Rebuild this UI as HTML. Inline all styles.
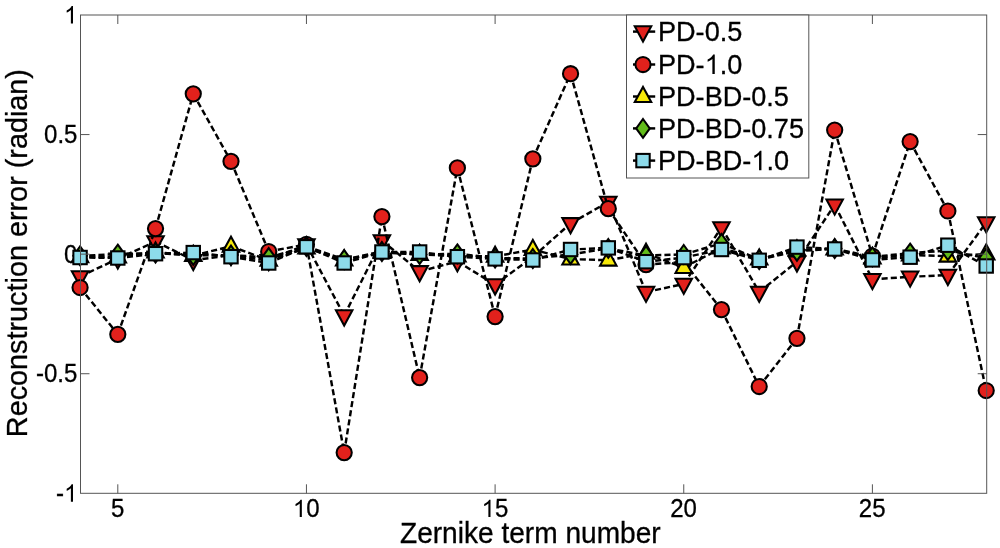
<!DOCTYPE html>
<html><head><meta charset="utf-8"><title>Reconstruction error vs Zernike term number</title>
<style>html,body{margin:0;padding:0;background:#fff;}svg{display:block;will-change:transform;}text{font-family:"Liberation Sans",sans-serif;fill:#000;}</style>
</head><body>
<svg width="1000" height="548" viewBox="0 0 1000 548">
<rect x="0" y="0" width="1000" height="548" fill="#fff"/>
<g stroke="#000" stroke-width="0.3">
<text transform="translate(110.93 517.1) scale(1 1.06)" font-size="24.0">5</text>
<path transform="translate(292.9 517.1) scale(0.01172 -0.01185)" d="M763 0H583V1147Q518 1085 412.5 1023Q307 961 223 930V1104Q374 1175 487 1276Q600 1377 647 1472H763Z"/><text transform="translate(306.25 517.1) scale(1 1.06)" font-size="24.0">0</text>
<path transform="translate(481.55 517.1) scale(0.01172 -0.01185)" d="M763 0H583V1147Q518 1085 412.5 1023Q307 961 223 930V1104Q374 1175 487 1276Q600 1377 647 1472H763Z"/><text transform="translate(494.9 517.1) scale(1 1.06)" font-size="24.0">5</text>
<text transform="translate(670.2 517.1) scale(1 1.06)" font-size="24.0">20</text>
<text transform="translate(858.85 517.1) scale(1 1.06)" font-size="24.0">25</text>
</g>
<g stroke="#000" stroke-width="0.3">
<path transform="translate(64.05 23.5) scale(0.01172 -0.01185)" d="M763 0H583V1147Q518 1085 412.5 1023Q307 961 223 930V1104Q374 1175 487 1276Q600 1377 647 1472H763Z"/>
<text transform="translate(44.04 143.07) scale(1 1.06)" font-size="24.0">0.5</text>
<text transform="translate(64.05 262.65) scale(1 1.06)" font-size="24.0">0</text>
<text transform="translate(36.04 382.23) scale(1 1.06)" font-size="24.0">-0.5</text>
<text transform="translate(56.06 501.8) scale(1 1.06)" font-size="24.0">-</text><path transform="translate(64.05 501.8) scale(0.01172 -0.01185)" d="M763 0H583V1147Q518 1085 412.5 1023Q307 961 223 930V1104Q374 1175 487 1276Q600 1377 647 1472H763Z"/>
</g>
<text transform="translate(530.3 543.4) scale(1 1.035)" font-size="28.1" text-anchor="middle" stroke="#000" stroke-width="0.3">Zernike term number</text>
<text transform="translate(27.1 253.1) rotate(-90)" font-size="28.8" text-anchor="middle" stroke="#000" stroke-width="0.3">Reconstruction error (radian)</text>
<g stroke="#000" stroke-width="2.05" stroke-linejoin="miter" stroke-miterlimit="10">
<path d="M80.07 276.5L117.8 258.8M117.8 258.8L155.53 241.5M155.53 241.5L193.26 260.2M193.26 260.2L230.99 255.2M230.99 255.2L268.72 260.3M268.72 260.3L306.45 244.5M306.45 244.5L344.18 315.6M344.18 315.6L381.91 240.5M381.91 240.5L419.64 271.4M419.64 271.4L457.37 261.5M457.37 261.5L495.1 284.6M495.1 284.6L532.83 257M532.83 257L570.56 223.4M570.56 223.4L608.29 202M608.29 202L646.02 292M646.02 292L683.75 284M683.75 284L721.48 227.5M721.48 227.5L759.21 292M759.21 292L796.94 261.7M796.94 261.7L834.67 204.8M834.67 204.8L872.4 279.3M872.4 279.3L910.13 276.8M910.13 276.8L947.86 275.1M947.86 275.1L986.2 222.5" fill="none" stroke-width="2.45" stroke-dasharray="6.1 3.1"/>
<path d="M71.82 271.2H88.32L80.07 286.4Z" fill="#e2211c"/>
<path d="M109.55 253.5H126.05L117.8 268.7Z" fill="#e2211c"/>
<path d="M147.28 236.2H163.78L155.53 251.4Z" fill="#e2211c"/>
<path d="M185.01 254.9H201.51L193.26 270.1Z" fill="#e2211c"/>
<path d="M222.74 249.9H239.24L230.99 265.1Z" fill="#e2211c"/>
<path d="M260.47 255H276.97L268.72 270.2Z" fill="#e2211c"/>
<path d="M298.2 239.2H314.7L306.45 254.4Z" fill="#e2211c"/>
<path d="M335.93 310.3H352.43L344.18 325.5Z" fill="#e2211c"/>
<path d="M373.66 235.2H390.16L381.91 250.4Z" fill="#e2211c"/>
<path d="M411.39 266.1H427.89L419.64 281.3Z" fill="#e2211c"/>
<path d="M449.12 256.2H465.62L457.37 271.4Z" fill="#e2211c"/>
<path d="M486.85 279.3H503.35L495.1 294.5Z" fill="#e2211c"/>
<path d="M524.58 251.7H541.08L532.83 266.9Z" fill="#e2211c"/>
<path d="M562.31 218.1H578.81L570.56 233.3Z" fill="#e2211c"/>
<path d="M600.04 196.7H616.54L608.29 211.9Z" fill="#e2211c"/>
<path d="M637.77 286.7H654.27L646.02 301.9Z" fill="#e2211c"/>
<path d="M675.5 278.7H692L683.75 293.9Z" fill="#e2211c"/>
<path d="M713.23 222.2H729.73L721.48 237.4Z" fill="#e2211c"/>
<path d="M750.96 286.7H767.46L759.21 301.9Z" fill="#e2211c"/>
<path d="M788.69 256.4H805.19L796.94 271.6Z" fill="#e2211c"/>
<path d="M826.42 199.5H842.92L834.67 214.7Z" fill="#e2211c"/>
<path d="M864.15 274H880.65L872.4 289.2Z" fill="#e2211c"/>
<path d="M901.88 271.5H918.38L910.13 286.7Z" fill="#e2211c"/>
<path d="M939.61 269.8H956.11L947.86 285Z" fill="#e2211c"/>
<path d="M977.95 217.2H994.45L986.2 232.4Z" fill="#e2211c"/>
<path d="M80.07 287.5L117.8 334.3M117.8 334.3L155.53 228.6M155.53 228.6L193.26 93.8M193.26 93.8L230.99 161.3M230.99 161.3L268.72 251.5M268.72 251.5L306.45 244.4M306.45 244.4L344.18 452.6M344.18 452.6L381.91 216.6M381.91 216.6L419.64 377.6M419.64 377.6L457.37 167.9M457.37 167.9L495.1 316.6M495.1 316.6L532.83 158.8M532.83 158.8L570.56 73.7M570.56 73.7L608.29 208.7M608.29 208.7L646.02 264.6M646.02 264.6L683.75 262M683.75 262L721.48 309.6M721.48 309.6L759.21 386.5M759.21 386.5L796.94 338.3M796.94 338.3L834.67 130.1M834.67 130.1L872.4 256M872.4 256L910.13 141.6M910.13 141.6L947.86 211M947.86 211L986.2 390.5" fill="none" stroke-width="2.45" stroke-dasharray="6.1 3.1"/>
<circle cx="80.07" cy="287.5" r="7.6" fill="#e2211c"/>
<circle cx="117.8" cy="334.3" r="7.6" fill="#e2211c"/>
<circle cx="155.53" cy="228.6" r="7.6" fill="#e2211c"/>
<circle cx="193.26" cy="93.8" r="7.6" fill="#e2211c"/>
<circle cx="230.99" cy="161.3" r="7.6" fill="#e2211c"/>
<circle cx="268.72" cy="251.5" r="7.6" fill="#e2211c"/>
<circle cx="306.45" cy="244.4" r="7.6" fill="#e2211c"/>
<circle cx="344.18" cy="452.6" r="7.6" fill="#e2211c"/>
<circle cx="381.91" cy="216.6" r="7.6" fill="#e2211c"/>
<circle cx="419.64" cy="377.6" r="7.6" fill="#e2211c"/>
<circle cx="457.37" cy="167.9" r="7.6" fill="#e2211c"/>
<circle cx="495.1" cy="316.6" r="7.6" fill="#e2211c"/>
<circle cx="532.83" cy="158.8" r="7.6" fill="#e2211c"/>
<circle cx="570.56" cy="73.7" r="7.6" fill="#e2211c"/>
<circle cx="608.29" cy="208.7" r="7.6" fill="#e2211c"/>
<circle cx="646.02" cy="264.6" r="7.6" fill="#e2211c"/>
<circle cx="683.75" cy="262" r="7.6" fill="#e2211c"/>
<circle cx="721.48" cy="309.6" r="7.6" fill="#e2211c"/>
<circle cx="759.21" cy="386.5" r="7.6" fill="#e2211c"/>
<circle cx="796.94" cy="338.3" r="7.6" fill="#e2211c"/>
<circle cx="834.67" cy="130.1" r="7.6" fill="#e2211c"/>
<circle cx="872.4" cy="256" r="7.6" fill="#e2211c"/>
<circle cx="910.13" cy="141.6" r="7.6" fill="#e2211c"/>
<circle cx="947.86" cy="211" r="7.6" fill="#e2211c"/>
<circle cx="986.2" cy="390.5" r="7.6" fill="#e2211c"/>
<path d="M80.07 256.7L117.8 257M117.8 257L155.53 252M155.53 252L193.26 255.5M193.26 255.5L230.99 246.3M230.99 246.3L268.72 260.3M268.72 260.3L306.45 248M306.45 248L344.18 260M344.18 260L381.91 252.5M381.91 252.5L419.64 254.5M419.64 254.5L457.37 256M457.37 256L495.1 256.3M495.1 256.3L532.83 249.6M532.83 249.6L570.56 259.1M570.56 259.1L608.29 260.2M608.29 260.2L646.02 253.3M646.02 253.3L683.75 267.5M683.75 267.5L721.48 248M721.48 248L759.21 259M759.21 259L796.94 250M796.94 250L834.67 249M834.67 249L872.4 258M872.4 258L910.13 255M910.13 255L947.86 256.2M947.86 256.2L986.2 254" fill="none" stroke-width="2.45" stroke-dasharray="6.1 3.1"/>
<path d="M71.82 262.1H88.32L80.07 247.1Z" fill="#f6e90a"/>
<path d="M109.55 262.4H126.05L117.8 247.4Z" fill="#f6e90a"/>
<path d="M147.28 257.4H163.78L155.53 242.4Z" fill="#f6e90a"/>
<path d="M185.01 260.9H201.51L193.26 245.9Z" fill="#f6e90a"/>
<path d="M222.74 251.7H239.24L230.99 236.7Z" fill="#f6e90a"/>
<path d="M260.47 265.7H276.97L268.72 250.7Z" fill="#f6e90a"/>
<path d="M298.2 253.4H314.7L306.45 238.4Z" fill="#f6e90a"/>
<path d="M335.93 265.4H352.43L344.18 250.4Z" fill="#f6e90a"/>
<path d="M373.66 257.9H390.16L381.91 242.9Z" fill="#f6e90a"/>
<path d="M411.39 259.9H427.89L419.64 244.9Z" fill="#f6e90a"/>
<path d="M449.12 261.4H465.62L457.37 246.4Z" fill="#f6e90a"/>
<path d="M486.85 261.7H503.35L495.1 246.7Z" fill="#f6e90a"/>
<path d="M524.58 255H541.08L532.83 240Z" fill="#f6e90a"/>
<path d="M562.31 264.5H578.81L570.56 249.5Z" fill="#f6e90a"/>
<path d="M600.04 265.6H616.54L608.29 250.6Z" fill="#f6e90a"/>
<path d="M637.77 258.7H654.27L646.02 243.7Z" fill="#f6e90a"/>
<path d="M675.5 272.9H692L683.75 257.9Z" fill="#f6e90a"/>
<path d="M713.23 253.4H729.73L721.48 238.4Z" fill="#f6e90a"/>
<path d="M750.96 264.4H767.46L759.21 249.4Z" fill="#f6e90a"/>
<path d="M788.69 255.4H805.19L796.94 240.4Z" fill="#f6e90a"/>
<path d="M826.42 254.4H842.92L834.67 239.4Z" fill="#f6e90a"/>
<path d="M864.15 263.4H880.65L872.4 248.4Z" fill="#f6e90a"/>
<path d="M901.88 260.4H918.38L910.13 245.4Z" fill="#f6e90a"/>
<path d="M939.61 261.6H956.11L947.86 246.6Z" fill="#f6e90a"/>
<path d="M977.95 259.4H994.45L986.2 244.4Z" fill="#f6e90a"/>
<path d="M80.07 255.8L117.8 254.1M117.8 254.1L155.53 253M155.53 253L193.26 255.5M193.26 255.5L230.99 255M230.99 255L268.72 257.5M268.72 257.5L306.45 246.5M306.45 246.5L344.18 259.5M344.18 259.5L381.91 251.5M381.91 251.5L419.64 254.5M419.64 254.5L457.37 253.8M457.37 253.8L495.1 258M495.1 258L532.83 258.5M532.83 258.5L570.56 254.5M570.56 254.5L608.29 248.4M608.29 248.4L646.02 255.5M646.02 255.5L683.75 254.4M683.75 254.4L721.48 243.3M721.48 243.3L759.21 259.6M759.21 259.6L796.94 251.3M796.94 251.3L834.67 248.6M834.67 248.6L872.4 256.9M872.4 256.9L910.13 253.1M910.13 253.1L947.86 250.6M947.86 250.6L986.2 258" fill="none" stroke-width="2.45" stroke-dasharray="6.1 3.1"/>
<path d="M80.07 246.4L86.87 255.8L80.07 265.2L73.27 255.8Z" fill="#62bc1a"/>
<path d="M117.8 244.7L124.6 254.1L117.8 263.5L111 254.1Z" fill="#62bc1a"/>
<path d="M155.53 243.6L162.33 253L155.53 262.4L148.73 253Z" fill="#62bc1a"/>
<path d="M193.26 246.1L200.06 255.5L193.26 264.9L186.46 255.5Z" fill="#62bc1a"/>
<path d="M230.99 245.6L237.79 255L230.99 264.4L224.19 255Z" fill="#62bc1a"/>
<path d="M268.72 248.1L275.52 257.5L268.72 266.9L261.92 257.5Z" fill="#62bc1a"/>
<path d="M306.45 237.1L313.25 246.5L306.45 255.9L299.65 246.5Z" fill="#62bc1a"/>
<path d="M344.18 250.1L350.98 259.5L344.18 268.9L337.38 259.5Z" fill="#62bc1a"/>
<path d="M381.91 242.1L388.71 251.5L381.91 260.9L375.11 251.5Z" fill="#62bc1a"/>
<path d="M419.64 245.1L426.44 254.5L419.64 263.9L412.84 254.5Z" fill="#62bc1a"/>
<path d="M457.37 244.4L464.17 253.8L457.37 263.2L450.57 253.8Z" fill="#62bc1a"/>
<path d="M495.1 248.6L501.9 258L495.1 267.4L488.3 258Z" fill="#62bc1a"/>
<path d="M532.83 249.1L539.63 258.5L532.83 267.9L526.03 258.5Z" fill="#62bc1a"/>
<path d="M570.56 245.1L577.36 254.5L570.56 263.9L563.76 254.5Z" fill="#62bc1a"/>
<path d="M608.29 239L615.09 248.4L608.29 257.8L601.49 248.4Z" fill="#62bc1a"/>
<path d="M646.02 246.1L652.82 255.5L646.02 264.9L639.22 255.5Z" fill="#62bc1a"/>
<path d="M683.75 245L690.55 254.4L683.75 263.8L676.95 254.4Z" fill="#62bc1a"/>
<path d="M721.48 233.9L728.28 243.3L721.48 252.7L714.68 243.3Z" fill="#62bc1a"/>
<path d="M759.21 250.2L766.01 259.6L759.21 269L752.41 259.6Z" fill="#62bc1a"/>
<path d="M796.94 241.9L803.74 251.3L796.94 260.7L790.14 251.3Z" fill="#62bc1a"/>
<path d="M834.67 239.2L841.47 248.6L834.67 258L827.87 248.6Z" fill="#62bc1a"/>
<path d="M872.4 247.5L879.2 256.9L872.4 266.3L865.6 256.9Z" fill="#62bc1a"/>
<path d="M910.13 243.7L916.93 253.1L910.13 262.5L903.33 253.1Z" fill="#62bc1a"/>
<path d="M947.86 241.2L954.66 250.6L947.86 260L941.06 250.6Z" fill="#62bc1a"/>
<path d="M986.2 248.6L993 258L986.2 267.4L979.4 258Z" fill="#62bc1a"/>
<path d="M80.07 257.5L117.8 258M117.8 258L155.53 253.7M155.53 253.7L193.26 252.6M193.26 252.6L230.99 256.7M230.99 256.7L268.72 263M268.72 263L306.45 246.8M306.45 246.8L344.18 263M344.18 263L381.91 252M381.91 252L419.64 252M419.64 252L457.37 256.7M457.37 256.7L495.1 258.9M495.1 258.9L532.83 260M532.83 260L570.56 249.5M570.56 249.5L608.29 247.9M608.29 247.9L646.02 261.7M646.02 261.7L683.75 257.6M683.75 257.6L721.48 249.5M721.48 249.5L759.21 260.3M759.21 260.3L796.94 247.1M796.94 247.1L834.67 249M834.67 249L872.4 259.9M872.4 259.9L910.13 257.2M910.13 257.2L947.86 245.2M947.86 245.2L986.2 266" fill="none" stroke-width="2.45" stroke-dasharray="6.1 3.1"/>
<rect x="73.37" y="250.8" width="13.4" height="13.4" fill="#8ddbea"/>
<rect x="111.1" y="251.3" width="13.4" height="13.4" fill="#8ddbea"/>
<rect x="148.83" y="247" width="13.4" height="13.4" fill="#8ddbea"/>
<rect x="186.56" y="245.9" width="13.4" height="13.4" fill="#8ddbea"/>
<rect x="224.29" y="250" width="13.4" height="13.4" fill="#8ddbea"/>
<rect x="262.02" y="256.3" width="13.4" height="13.4" fill="#8ddbea"/>
<rect x="299.75" y="240.1" width="13.4" height="13.4" fill="#8ddbea"/>
<rect x="337.48" y="256.3" width="13.4" height="13.4" fill="#8ddbea"/>
<rect x="375.21" y="245.3" width="13.4" height="13.4" fill="#8ddbea"/>
<rect x="412.94" y="245.3" width="13.4" height="13.4" fill="#8ddbea"/>
<rect x="450.67" y="250" width="13.4" height="13.4" fill="#8ddbea"/>
<rect x="488.4" y="252.2" width="13.4" height="13.4" fill="#8ddbea"/>
<rect x="526.13" y="253.3" width="13.4" height="13.4" fill="#8ddbea"/>
<rect x="563.86" y="242.8" width="13.4" height="13.4" fill="#8ddbea"/>
<rect x="601.59" y="241.2" width="13.4" height="13.4" fill="#8ddbea"/>
<rect x="639.32" y="255" width="13.4" height="13.4" fill="#8ddbea"/>
<rect x="677.05" y="250.9" width="13.4" height="13.4" fill="#8ddbea"/>
<rect x="714.78" y="242.8" width="13.4" height="13.4" fill="#8ddbea"/>
<rect x="752.51" y="253.6" width="13.4" height="13.4" fill="#8ddbea"/>
<rect x="790.24" y="240.4" width="13.4" height="13.4" fill="#8ddbea"/>
<rect x="827.97" y="242.3" width="13.4" height="13.4" fill="#8ddbea"/>
<rect x="865.7" y="253.2" width="13.4" height="13.4" fill="#8ddbea"/>
<rect x="903.43" y="250.5" width="13.4" height="13.4" fill="#8ddbea"/>
<rect x="941.16" y="238.5" width="13.4" height="13.4" fill="#8ddbea"/>
<rect x="979.5" y="259.3" width="13.4" height="13.4" fill="#8ddbea"/>
</g>
<g stroke="#555" stroke-width="1" fill="none" shape-rendering="auto">
<rect x="80.5" y="15.0" width="906.2" height="478.3"/>
<path d="M117.8 493.3V484.3M117.8 15.0V24M306.45 493.3V484.3M306.45 15.0V24M495.1 493.3V484.3M495.1 15.0V24M683.75 493.3V484.3M683.75 15.0V24M872.4 493.3V484.3M872.4 15.0V24M80.5 134.57H89.5M986.7 134.57H977.7M80.5 254.15H89.5M986.7 254.15H977.7M80.5 373.73H89.5M986.7 373.73H977.7"/>
</g>
<rect x="626.5" y="15.0" width="182.3" height="163" fill="#fff" stroke="#555" stroke-width="1"/>
<g stroke="#000" stroke-width="2.05" stroke-linejoin="miter" stroke-miterlimit="10">
<path d="M633 31.6H655.2" stroke-width="2.45" fill="none"/>
<path d="M634.75 26.3H651.25L643 41.5Z" fill="#e2211c"/>
<path d="M633 64.5H655.2" stroke-width="2.45" fill="none"/>
<circle cx="643" cy="64.5" r="7.6" fill="#e2211c"/>
<path d="M633 96.5H655.2" stroke-width="2.45" fill="none"/>
<path d="M634.75 101.9H651.25L643 86.9Z" fill="#f6e90a"/>
<path d="M633 128.4H655.2" stroke-width="2.45" fill="none"/>
<path d="M643 119L649.8 128.4L643 137.8L636.2 128.4Z" fill="#62bc1a"/>
<path d="M633 160.6H655.2" stroke-width="2.45" fill="none"/>
<rect x="636.3" y="153.9" width="13.4" height="13.4" fill="#8ddbea"/>
</g>
<g stroke="#000" stroke-width="0.3">
<text transform="translate(658 41.2) scale(1 1.05)" font-size="27.1">PD-0.5</text>
<text transform="translate(658 74.1) scale(1 1.05)" font-size="27.1">PD-</text><path transform="translate(704.67 74.1) scale(0.01323 -0.01326)" d="M763 0H583V1147Q518 1085 412.5 1023Q307 961 223 930V1104Q374 1175 487 1276Q600 1377 647 1472H763Z"/><text transform="translate(719.74 74.1) scale(1 1.05)" font-size="27.1">.0</text>
<text transform="translate(658 106.1) scale(1 1.05)" font-size="27.1">PD-BD-0.5</text>
<text transform="translate(658 138) scale(1 1.05)" font-size="27.1">PD-BD-0.75</text>
<text transform="translate(658 170.2) scale(1 1.05)" font-size="27.1">PD-BD-</text><path transform="translate(751.34 170.2) scale(0.01323 -0.01326)" d="M763 0H583V1147Q518 1085 412.5 1023Q307 961 223 930V1104Q374 1175 487 1276Q600 1377 647 1472H763Z"/><text transform="translate(766.41 170.2) scale(1 1.05)" font-size="27.1">.0</text>
</g>
</svg>
</body></html>
